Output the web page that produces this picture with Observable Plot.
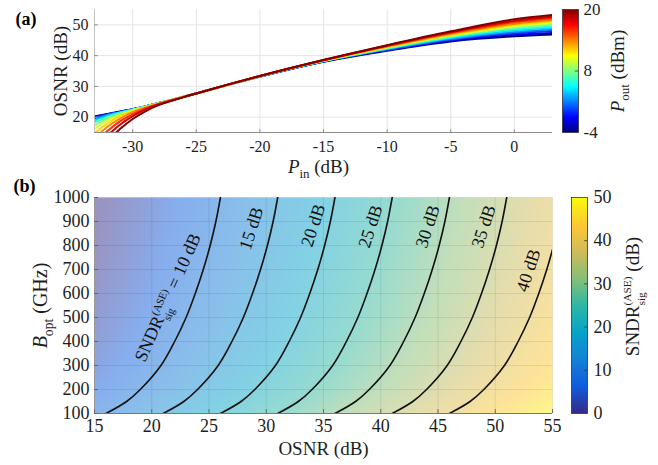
<!DOCTYPE html>
<html><head><meta charset="utf-8">
<script src="https://cdn.jsdelivr.net/npm/d3@7"></script>
<script src="https://cdn.jsdelivr.net/npm/@observablehq/plot@0.6"></script>
<style>
html,body{margin:0;padding:0;background:#fff;}
#fig{position:relative;width:658px;height:465px;overflow:hidden;background:#fff;font-family:"Liberation Serif","Times New Roman",Times,serif;}
#fig svg, #fig g, #fig text, #fig tspan{font-family:"Liberation Serif","Times New Roman",Times,serif !important;}
#fig svg{overflow:visible;}
</style></head><body><div id="fig"></div>
<script>
// ---------- Panel (a) data ----------
const pinValues = [-33,-32,-31,-30,-29,-28,-27,-26,-25,-20,-15,-10,-5,0,3];
const poutValues = [-4,-2,0,2,4,6,8,10,12,14,16,18,20];
const osnrCurves = [
  [20.2,21.0,21.8,22.6,23.5,24.5,25.5,26.6,27.7,33.2,38.0,41.6,44.6,46.3,46.9],
  [20.1,20.9,21.7,22.6,23.5,24.5,25.5,26.6,27.7,33.2,38.1,41.8,44.9,46.8,47.4],
  [19.8,20.8,21.7,22.6,23.5,24.5,25.5,26.6,27.7,33.2,38.1,41.9,45.2,47.2,48.0],
  [19.5,20.7,21.6,22.5,23.5,24.5,25.5,26.6,27.7,33.3,38.2,42.1,45.4,47.7,48.5],
  [19.0,20.4,21.5,22.5,23.5,24.5,25.5,26.6,27.7,33.3,38.2,42.2,45.7,48.1,49.0],
  [18.3,20.0,21.4,22.4,23.4,24.5,25.5,26.6,27.7,33.3,38.3,42.4,46.0,48.6,49.5],
  [17.3,19.6,21.1,22.3,23.4,24.5,25.5,26.6,27.7,33.3,38.3,42.5,46.3,49.1,50.1],
  [16.2,18.9,20.8,22.2,23.3,24.4,25.5,26.6,27.7,33.3,38.4,42.7,46.5,49.5,50.6],
  [14.8,17.9,20.3,21.9,23.2,24.4,25.5,26.6,27.7,33.3,38.4,42.8,46.8,50.0,51.1],
  [13.3,16.8,19.5,21.6,23.1,24.3,25.4,26.6,27.7,33.4,38.5,43.0,47.1,50.4,51.6],
  [11.6,15.4,18.6,21.0,22.8,24.2,25.4,26.5,27.7,33.4,38.5,43.1,47.4,50.9,52.2],
  [9.8,13.9,17.5,20.3,22.5,24.1,25.3,26.5,27.7,33.4,38.6,43.3,47.6,51.3,52.7],
  [8.0,12.2,16.1,19.4,21.9,23.8,25.2,26.5,27.7,33.4,38.6,43.4,47.9,51.8,53.2]
];
const pinTicks = [-30,-25,-20,-15,-10,-5,0];
const osnrTicksA = [20,30,40,50];
const poutTicks = [-4,8,20];

// ---------- Panel (b) data ----------
const osnrGrid = [15,20,25,30,35,40,45,50,55];
const boptGrid = [100,200,300,400,500,600,700,800,900,1000];
const sndrGrid = [
  [9.0,14.0,19.0,24.0,29.0,34.0,39.0,44.0,49.0],
  [6.0,11.0,16.0,21.0,26.0,31.0,36.0,41.0,46.0],
  [4.2,9.2,14.2,19.2,24.2,29.2,34.2,39.2,44.2],
  [3.0,8.0,13.0,18.0,23.0,28.0,33.0,38.0,43.0],
  [2.0,7.0,12.0,17.0,22.0,27.0,32.0,37.0,42.0],
  [1.2,6.2,11.2,16.2,21.2,26.2,31.2,36.2,41.2],
  [0.5,5.5,10.5,15.5,20.5,25.5,30.5,35.5,40.5],
  [-0.1,4.9,9.9,14.9,19.9,24.9,29.9,34.9,39.9],
  [-0.6,4.4,9.4,14.4,19.4,24.4,29.4,34.4,39.4],
  [-1.0,4.0,9.0,14.0,19.0,24.0,29.0,34.0,39.0]
];
const contourLevels = [10,15,20,25,30,35,40];
const contourB = [100,150,200,300,400,500,600,700,800,900,1000];
const contourOsnr = [
  [16.0,17.8,19.0,20.8,22.0,23.0,23.8,24.5,25.1,25.6,26.0],
  [21.0,22.8,24.0,25.8,27.0,28.0,28.8,29.5,30.1,30.6,31.0],
  [26.0,27.8,29.0,30.8,32.0,33.0,33.8,34.5,35.1,35.6,36.0],
  [31.0,32.8,34.0,35.8,37.0,38.0,38.8,39.5,40.1,40.6,41.0],
  [36.0,37.8,39.0,40.8,42.0,43.0,43.8,44.5,45.1,45.6,46.0],
  [41.0,42.8,44.0,45.8,47.0,48.0,48.8,49.5,50.1,50.6,51.0],
  [46.0,47.8,49.0,50.8,52.0,53.0,53.8,54.5,55.1,null,null]
];
const contourLabelText = ["SNDR_sig^(ASE) = 10 dB","15 dB","20 dB","25 dB","30 dB","35 dB","40 dB"];
const osnrTicksB = [15,20,25,30,35,40,45,50,55];
const boptTicks = [100,200,300,400,500,600,700,800,900,1000];
const sndrTicks = [0,10,20,30,40,50];

// ---------- tables ----------
const lineRows = poutValues.flatMap((p, i) => pinValues.map((x, j) => ({pout: p, pin: x, osnr: osnrCurves[i][j]})));
const heatRows = boptGrid.flatMap((b, i) => osnrGrid.map((o, j) => ({osnr: o, bopt: b, sndr: sndrGrid[i][j]})));
const contourRows = contourLevels.flatMap((L, i) => contourB.map((b, j) => ({level: L, bopt: b, osnr: contourOsnr[i][j]})).filter(d => d.osnr != null));
// label placement (annotation layout)
const labelPlace = [[21.4,583,-66],[28.7,871,-72],[34.1,883,-72],[39.1,879,-72],[44.1,879,-72],[49.0,879,-72],[52.9,696,-72]];
const labelRows = contourLabelText.map((t, i) => ({text: t, osnr: labelPlace[i][0], bopt: labelPlace[i][1], angle: labelPlace[i][2]}));

const SERIF = '"Liberation Serif","Times New Roman",Times,serif';
const jet = {type: "linear", domain: [-4,-1,5,11,17,20], range: ["#00007f","#0000ff","#00ffff","#ffff00","#ff0000","#7f0000"], interpolate: "rgb", clamp: true};
const parula = {type: "linear", domain: [0,6.25,12.5,18.75,25,31.25,37.5,43.75,50], range: ["#352a87","#0f5cdd","#1481d6","#06a4ca","#2eb7a4","#87bf77","#d1bb59","#fec832","#f9fb0e"], interpolate: "rgb", clamp: true};
const st = (fs) => ({fontFamily: SERIF, fontSize: fs, color: "#1e1e1e", background: "transparent", overflow: "visible"});
const fmt = d => String(d);

const plotA = Plot.plot({
  width: 560, height: 175, marginLeft: 94, marginRight: 8, marginTop: 9, marginBottom: 43,
  style: st("15px"),
  x: {domain: [-33, 3]}, y: {domain: [15, 55]}, color: jet,
  marks: [
    Plot.ruleX(pinTicks, {stroke: "#e4e4e4"}),
    Plot.ruleY(osnrTicksA, {stroke: "#e4e4e4"}),
    Plot.line(lineRows, {x: "pin", y: "osnr", z: "pout", stroke: "pout", strokeWidth: 2, curve: "monotone-x", clip: true}),
    Plot.ruleY([15], {stroke: "#8c8c8c"}),
    Plot.ruleX([-33], {stroke: "#c4c4c4"}),
    Plot.ruleX(pinTicks, {y1: 15, y2: 15.9, stroke: "#8c8c8c"}),
    Plot.ruleY(osnrTicksA, {x1: -33, x2: -32.7, stroke: "#8c8c8c"}),
    Plot.axisX({ticks: pinTicks, tickSize: 0, tickPadding: 8, tickFormat: fmt, label: null, fontSize: 16}),
    Plot.axisY({ticks: osnrTicksA, tickSize: 0, tickPadding: 6, tickFormat: fmt, label: null, fontSize: 16}),
    Plot.text(["P_in (dB)"], {frameAnchor: "bottom", lineAnchor: "middle", textAnchor: "middle", dy: 34, dx: -5, text: d => d, fontSize: 19}),
    Plot.text(["OSNR (dB)"], {frameAnchor: "left", lineAnchor: "middle", textAnchor: "middle", dx: -34, rotate: -90, text: d => d, fontSize: 19}),
    Plot.text(["(a)"], {frameAnchor: "top-left", lineAnchor: "middle", dx: -79, dy: 10, text: d => d, fontSize: 18, fontWeight: "bold", textAnchor: "start", fill: "#000"})
  ]
});

const cbA = Plot.plot({
  width: 103, height: 175, marginLeft: 7, marginRight: 80, marginTop: 9, marginBottom: 43,
  style: st("16px"),
  x: {domain: [0, 1], axis: null}, y: {domain: [-4, 20]}, color: jet,
  marks: [
    Plot.raster({x1: 0, x2: 1, y1: -4, y2: 20, fill: (x, y) => y}),
    Plot.ruleY([8], {x1: 0.8, x2: 1, stroke: "#333", strokeWidth: 0.8}),
    Plot.frame({stroke: "#333", strokeWidth: 0.8}),
    Plot.axisY({ticks: poutTicks, anchor: "right", tickSize: 0, tickPadding: 5, tickFormat: fmt, label: null, fontSize: 17}),
    Plot.text(["P_out (dBm)"], {frameAnchor: "right", lineAnchor: "middle", textAnchor: "middle", dx: 39, rotate: -90, text: d => d, fontSize: 19})
  ]
});

const plotB = Plot.plot({
  width: 560, height: 295, marginLeft: 94, marginRight: 8, marginTop: 27, marginBottom: 52,
  style: st("18px"),
  x: {domain: [15, 55]}, y: {domain: [100, 1000]}, color: parula,
  marks: [
    Plot.raster(heatRows, {x: "osnr", y: "bopt", fill: "sndr", interpolate: "barycentric", x1: 15, x2: 55, y1: 100, y2: 1000, fillOpacity: 0.5}),
    Plot.ruleX(osnrTicksB, {stroke: "#000", strokeOpacity: 0.08}),
    Plot.ruleY(boptTicks, {stroke: "#000", strokeOpacity: 0.08}),
    Plot.line(contourRows, {x: "osnr", y: "bopt", z: "level", stroke: "#111", strokeWidth: 1.6, curve: "catmull-rom", clip: true}),
    Plot.text(labelRows, {x: "osnr", y: "bopt", text: "text", rotate: d => d.angle, fontSize: 18, fill: "#111"}),
    Plot.ruleY([100], {stroke: "#777"}),
    Plot.ruleX([15], {stroke: "#999"}),
    Plot.ruleX(osnrTicksB, {y1: 100, y2: 116, stroke: "#666"}),
    Plot.ruleY(boptTicks, {x1: 15, x2: 15.35, stroke: "#666"}),
    Plot.axisX({ticks: osnrTicksB, tickSize: 0, tickPadding: 6, tickFormat: fmt, label: null, fontSize: 18}),
    Plot.axisY({ticks: boptTicks, tickSize: 0, tickPadding: 5, tickFormat: fmt, label: null, fontSize: 18}),
    Plot.text(["OSNR (dB)"], {frameAnchor: "bottom", lineAnchor: "middle", textAnchor: "middle", dy: 35, text: d => d, fontSize: 19}),
    Plot.text(["B_opt (GHz)"], {frameAnchor: "left", lineAnchor: "middle", textAnchor: "middle", dx: -54, rotate: -90, text: d => d, fontSize: 20}),
    Plot.text(["(b)"], {frameAnchor: "top-left", lineAnchor: "middle", dx: -81, dy: -11, text: d => d, fontSize: 18, fontWeight: "bold", textAnchor: "start", fill: "#000"})
  ]
});

const cbB = Plot.plot({
  width: 98, height: 295, marginLeft: 11, marginRight: 71, marginTop: 27, marginBottom: 52,
  style: st("18px"),
  x: {domain: [0, 1], axis: null}, y: {domain: [0, 50]}, color: parula,
  marks: [
    Plot.raster({x1: 0, x2: 1, y1: 0, y2: 50, fill: (x, y) => y}),
    Plot.ruleY(sndrTicks.slice(1, -1), {x1: 0.82, x2: 1, stroke: "#333", strokeWidth: 0.8}),
    Plot.frame({stroke: "#333", strokeWidth: 0.8}),
    Plot.axisY({ticks: sndrTicks, anchor: "right", tickSize: 0, tickPadding: 6, tickFormat: fmt, label: null, fontSize: 18}),
    Plot.text(["SNDR_sig^(ASE) (dB)"], {frameAnchor: "right", lineAnchor: "middle", textAnchor: "middle", dx: 45, dy: -9, rotate: -90, text: d => d, fontSize: 19})
  ]
});

const fig = document.getElementById("fig");
[[plotA, 0, 0], [cbA, 555, 0], [plotB, 0, 170], [cbB, 560, 170]].forEach(([el, l, t]) => {
  el.style.position = "absolute"; el.style.left = l + "px"; el.style.top = t + "px";
  fig.appendChild(el);
});

// ---------- rich text (sub/superscripts) ----------
const NS = "http://www.w3.org/2000/svg";
function richify(marker, parts) {
  fig.querySelectorAll("text").forEach(t => {
    if (t.textContent !== marker) return;
    const fs = parseFloat(getComputedStyle(t).fontSize) || 16;
    while (t.firstChild) t.removeChild(t.firstChild);
    let shift = 0, pendingDx = 0;
    const add = (str, o = {}) => {
      const s = document.createElementNS(NS, "tspan");
      s.textContent = str;
      if (o.size) s.setAttribute("font-size", o.size);
      if (o.italic) s.setAttribute("font-style", "italic");
      const target = o.shift || 0;
      if (target !== shift) { s.setAttribute("dy", target - shift); shift = target; }
      const dx = (o.dx || 0) + pendingDx; pendingDx = 0;
      if (dx) s.setAttribute("dx", dx);
      t.appendChild(s);
      return s;
    };
    for (const p of parts) {
      if (p.sub != null) add(p.sub, {size: fs * 0.68, shift: fs * 0.3});
      else if (p.supsub) {
        const a = add(p.supsub[0], {size: fs * 0.6, shift: -fs * 0.42});
        const wa = a.getComputedTextLength();
        const b = add(p.supsub[1], {size: fs * 0.6, shift: fs * 0.32, dx: -wa});
        const wb = b.getComputedTextLength();
        pendingDx = Math.max(0, wa - wb);
      } else add(p.t, {italic: p.italic, shift: 0});
    }
  });
}
richify("P_in (dB)", [{t: "P", italic: true}, {sub: "in"}, {t: " (dB)"}]);
richify("P_out (dBm)", [{t: "P", italic: true}, {sub: "out"}, {t: " (dBm)"}]);
richify("B_opt (GHz)", [{t: "B", italic: true}, {sub: "opt"}, {t: " (GHz)"}]);
richify("SNDR_sig^(ASE) (dB)", [{t: "SNDR"}, {supsub: ["(ASE)", "sig"]}, {t: " (dB)"}]);
richify("SNDR_sig^(ASE) = 10 dB", [{t: "SNDR"}, {supsub: ["(ASE)", "sig"]}, {t: " = 10 dB"}]);
</script></body></html>
